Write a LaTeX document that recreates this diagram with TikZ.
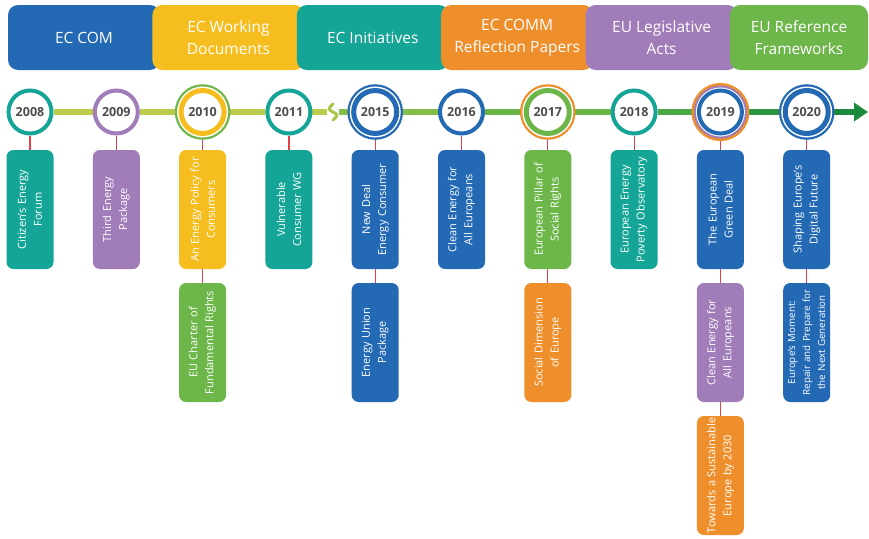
\documentclass[tikz,border=0pt]{standalone}
\usepackage{fontspec}
\setmainfont{Open Sans}
\usetikzlibrary{positioning,arrows.meta,backgrounds}

\definecolor{ecblue}{HTML}{2369B3}
\definecolor{ecyellow}{HTML}{F5BD1E}
\definecolor{ecteal}{HTML}{15A596}
\definecolor{ecorange}{HTML}{EF8F2C}
\definecolor{ecpurple}{HTML}{A07CB8}
\definecolor{ecgreen}{HTML}{6CB64A}
\definecolor{linkred}{HTML}{E5404A}
\definecolor{yeargray}{HTML}{4D4D4D}
% timeline from pale olive to dark green
\definecolor{trackA}{HTML}{BCCB4E}
\definecolor{trackB}{HTML}{A9C549}
\definecolor{trackC}{HTML}{84BD4A}
\definecolor{trackD}{HTML}{6CB548}
\definecolor{trackE}{HTML}{4AA847}
\definecolor{trackF}{HTML}{2E9643}
\definecolor{trackG}{HTML}{1C8A3C}

\begin{document}
\begin{tikzpicture}[x=1pt, y=-1pt,
    head/.style={rounded corners=10pt, minimum width=152pt, minimum height=65pt,
      inner sep=0pt, align=center, text=white, font=\fontsize{15.5}{22}\selectfont},
    year/.style={circle, draw, fill=white, line width=4pt, minimum size=43pt,
      inner sep=0pt, text=yeargray, font=\fontsize{12.5}{14}\selectfont\bfseries},
    doublering/.style 2 args={draw=#1, line width=5pt,
      preaction={draw=#2, line width=12.5pt}, preaction={draw=white, line width=8pt}},
    box/.style={rounded corners=7pt, rotate=90, minimum width=119pt, minimum height=47pt,
      text width=116pt, inner sep=1.5pt, align=center, text=white,
      font=\fontsize{11}{16}\selectfont},
    track/.style={line width=5.5pt},
    link/.style={linkred, line width=1.2pt}]
  \useasboundingbox (0,0) rectangle (869,538);

  % category bar
  \node[head, fill=ecblue] (com) at (84,37.5) {EC COM};
  \node[head, fill=ecyellow, right=-8pt of com] (working) {EC Working\\Documents};
  \node[head, fill=ecteal, right=-8pt of working] (initiatives) {EC Initiatives};
  \node[head, fill=ecorange, right=-8pt of initiatives] (comm) {EC COMM\\Reflection Papers};
  \node[head, fill=ecpurple, right=-8pt of comm] (legislative) {EU Legislative\\Acts};
  \node[head, fill=ecgreen, right=-8pt of legislative, minimum width=138pt] (reference)
    {EU Reference\\Frameworks};

  % years
  \node[year, draw=ecteal] (y2008) at (30,112) {2008};
  \node[year, draw=ecpurple] (y2009) at (116.3,112) {2009};
  \node[year, doublering={ecyellow}{ecgreen}] (y2010) at (202.6,112) {2010};
  \node[year, draw=ecteal] (y2011) at (288.9,112) {2011};
  \node[year, doublering={ecblue}{ecblue}] (y2015) at (375.2,112) {2015};
  \node[year, draw=ecblue] (y2016) at (461.5,112) {2016};
  \node[year, doublering={ecgreen}{ecorange}] (y2017) at (547.8,112) {2017};
  \node[year, draw=ecteal] (y2018) at (634.1,112) {2018};
  \node[year, draw=ecblue, preaction={draw=ecorange, line width=15pt},
    preaction={draw=ecpurple, line width=10pt}, preaction={draw=white, line width=6pt}]
    (y2019) at (720.4,112) {2019};
  \node[year, doublering={ecblue}{ecblue}] (y2020) at (806.7,112) {2020};

  \coordinate (gapl) at (327,112);
  \coordinate (gapr) at (339,112);
  \coordinate (tip) at (868,112);

  % first row
  \node[box, fill=ecteal] (forum) at (30,209.5) {Citizen's Energy\\Forum};
  \node[box, fill=ecpurple] (package) at (116.3,209.5) {Third Energy\\Package};
  \node[box, fill=ecyellow] (policy) at (202.6,209.5) {An Energy Policy for\\Consumers};
  \node[box, fill=ecteal] (vulnerable) at (288.9,209.5) {Vulnerable\\Consumer WG};
  \node[box, fill=ecblue] (newdeal) at (375.2,209.5) {New Deal\\Energy Consumer};
  \node[box, fill=ecblue] (cleanenergy) at (461.5,209.5) {Clean Energy for\\All Europeans};
  \node[box, fill=ecgreen] (pillar) at (547.8,209.5) {European Pillar of\\Social Rights};
  \node[box, fill=ecteal] (poverty) at (634.1,209.5) {European Energy\\Poverty Observatory};
  \node[box, fill=ecblue] (greendeal) at (720.4,209.5) {The European\\Green Deal};
  \node[box, fill=ecblue] (digital) at (806.7,209.5) {Shaping Europe's\\Digital Future};

  % second and third row
  \node[box, fill=ecgreen] (charter) at (202.6,342.5) {EU Charter of\\Fundamental Rights};
  \node[box, fill=ecblue] (union) at (375.2,342.5) {Energy Union\\Package};
  \node[box, fill=ecorange] (social) at (547.8,342.5) {Social Dimension\\of Europe};
  \node[box, fill=ecpurple] (cleanall) at (720.4,342.5) {Clean Energy for\\All Europeans};
  \node[box, fill=ecblue, font=\fontsize{9.8}{15}\selectfont] (moment) at (806.7,342.5)
    {Europe's Moment:\\Repair and Prepare for\\the Next Generation};
  \node[box, fill=ecorange] (sustainable) at (720.4,475.5)
    {Towards a Sustainable\\Europe by 2030};

  \begin{scope}[on background layer]
    \draw[track, trackA] (y2008) -- (y2009);
    \draw[track, trackA] (y2009) -- (y2010);
    \draw[track, trackA] (y2010) -- (y2011);
    \draw[track, trackA] (y2011) -- (gapl);
    \draw[trackB, line width=3pt, line cap=round] (333,104) .. controls (328,108) and (328,110) .. (333,112)
      .. controls (338,114) and (338,116) .. (333,120);
    \draw[track, trackC] (gapr) -- (y2015);
    \draw[track, trackC] (y2015) -- (y2016);
    \draw[track, trackD] (y2016) -- (y2017);
    \draw[track, trackD] (y2017) -- (y2018);
    \draw[track, trackE] (y2018) -- (y2019);
    \draw[track, trackF] (y2019) -- (y2020);
    \draw[track, trackG, -{Triangle[length=14pt,width=18pt]}] (y2020) -- (tip);

    \draw[link] (y2008) -- (forum);
    \draw[link] (y2009) -- (package);
    \draw[link] (y2010) -- (policy);
    \draw[link] (policy) -- (charter);
    \draw[link] (y2011) -- (vulnerable);
    \draw[link] (y2015) -- (newdeal);
    \draw[link] (newdeal) -- (union);
    \draw[link] (y2016) -- (cleanenergy);
    \draw[link] (y2017) -- (pillar);
    \draw[link] (pillar) -- (social);
    \draw[link] (y2018) -- (poverty);
    \draw[link] (y2019) -- (greendeal);
    \draw[link] (greendeal) -- (cleanall);
    \draw[link] (cleanall) -- (sustainable);
    \draw[link] (y2020) -- (digital);
    \draw[link] (digital) -- (moment);
  \end{scope}
\end{tikzpicture}
\end{document}
